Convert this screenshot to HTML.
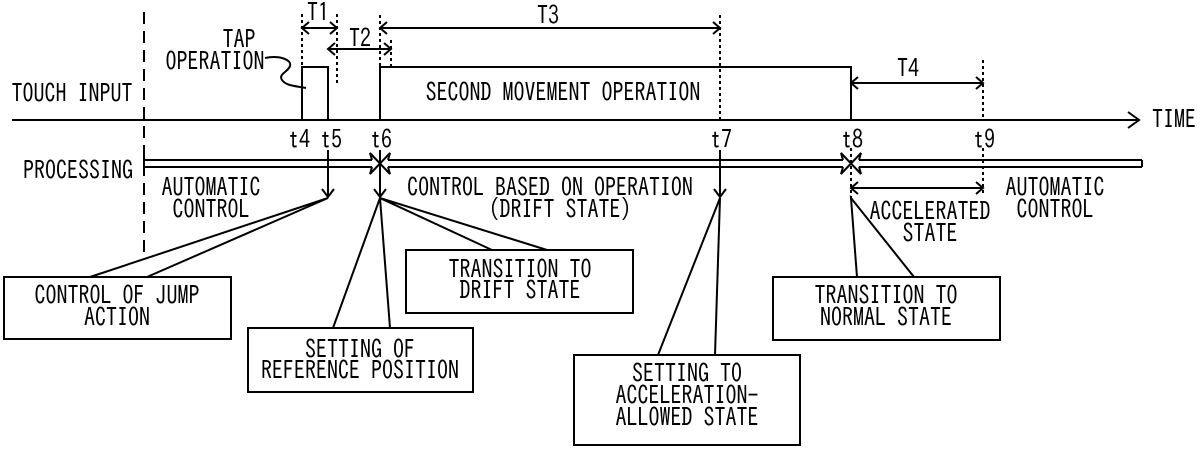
<!DOCTYPE html>
<html><head><meta charset="utf-8"><style>
html,body{margin:0;padding:0;background:#fff;}
svg{display:block;}
text{font-family:"IPAGothic","Liberation Sans Narrow","Liberation Sans",sans-serif;font-size:22px;fill:#000;transform-box:fill-box;transform-origin:center;transform:scaleY(1.18);}
</style></head><body>
<svg width="1200" height="449" viewBox="0 0 1200 449" xmlns="http://www.w3.org/2000/svg">
<g stroke="#000" stroke-width="2" fill="none">
<line x1="144" y1="12" x2="144" y2="252" stroke-dasharray="12,7"/>
<line x1="12" y1="120" x2="1138" y2="120"/>
<polyline points="1128,112 1139,120 1128,128"/>
<polyline points="302,120 302,67 328,67 328,120"/>
<polyline points="380,120 380,67 851,67 851,120"/>
<g stroke-dasharray="3,3">
<line x1="302" y1="14" x2="302" y2="67"/>
<line x1="337" y1="14" x2="337" y2="84"/>
<line x1="380" y1="15" x2="380" y2="67"/>
<line x1="391" y1="40" x2="391" y2="67"/>
<line x1="720" y1="15" x2="720" y2="120"/>
<line x1="983" y1="60" x2="983" y2="120"/>
<line x1="851" y1="148" x2="851" y2="200"/>
<line x1="983" y1="148" x2="983" y2="196"/>
</g>
<line x1="302" y1="28" x2="337" y2="28"/><polyline points="309,22 302,28 309,34"/><polyline points="330,22 337,28 330,34"/>
<line x1="328" y1="49" x2="391" y2="49"/><polyline points="335,43 328,49 335,55"/><polyline points="384,43 391,49 384,55"/>
<line x1="380" y1="28" x2="720" y2="28"/><polyline points="387,22 380,28 387,34"/><polyline points="713,22 720,28 713,34"/>
<line x1="851" y1="83" x2="983" y2="83"/><polyline points="858,77 851,83 858,89"/><polyline points="976,77 983,83 976,89"/>
<line x1="851" y1="188" x2="983" y2="188"/><polyline points="858,182 851,188 858,194"/><polyline points="976,182 983,188 976,194"/>
<path d="M265,58 C280,55 292,60 290,66 C288,72 278,74 282,80 C286,86 296,86 306,88"/>
<line x1="144" y1="155" x2="144" y2="170"/>
<line x1="144" y1="160" x2="372" y2="160"/><line x1="144" y1="167" x2="372" y2="167"/>
<line x1="388" y1="160" x2="843" y2="160"/><line x1="388" y1="167" x2="843" y2="167"/>
<line x1="859" y1="160" x2="1142" y2="160"/><line x1="859" y1="167" x2="1142" y2="167"/>
<line x1="1142" y1="160" x2="1142" y2="167"/>
<polyline points="372,160 370,153 380,163.5 370,174 372,167"/>
<polyline points="388,160 390,153 380,163.5 390,174 388,167"/>
<polyline points="843,160 841,153 851,163.5 841,174 843,167"/>
<polyline points="859,160 861,153 851,163.5 861,174 859,167"/>
<line x1="328" y1="150" x2="328" y2="197"/><polyline points="322,189 328,197 334,189"/>
<line x1="380" y1="150" x2="380" y2="197"/><polyline points="374,189 380,197 386,189"/>
<line x1="720" y1="150" x2="720" y2="197"/><polyline points="714,189 720,197 726,189"/>
<polyline points="90,277 328,198 147,277"/>
<polyline points="333,328 380,198 390,328"/>
<polyline points="492,250 380,198 547,250"/>
<polyline points="658,355 720,198 715,355"/>
<polyline points="857,277 851,198 914,277"/>
<rect x="4" y="277" width="227" height="62"/>
<rect x="248" y="328" width="225" height="64"/>
<rect x="406" y="250" width="227" height="63"/>
<rect x="574" y="355" width="226" height="90"/>
<rect x="773" y="277" width="227" height="63"/>
</g>
<g text-anchor="middle">
<text x="318" y="20">T1</text>
<text x="360" y="46">T2</text>
<text x="548" y="23">T3</text>
<text x="908" y="76">T4</text>
<text x="239" y="47">TAP</text>
<text x="215" y="69">OPERATION</text>
<text x="72" y="101">TOUCH INPUT</text>
<text x="78" y="178">PROCESSING</text>
<text x="1174" y="127">TIME</text>
<text x="563" y="100">SECOND MOVEMENT OPERATION</text>
<text x="299" y="147">t4</text><text x="331" y="147">t5</text><text x="381" y="147">t6</text>
<text x="721" y="147">t7</text><text x="852" y="147">t8</text><text x="984" y="147">t9</text>
<text x="211" y="195">AUTOMATIC</text><text x="211" y="217">CONTROL</text>
<text x="550" y="195">CONTROL BASED ON OPERATION</text><text x="560" y="217">(DRIFT STATE)</text>
<text x="930" y="219">ACCELERATED</text><text x="930" y="241">STATE</text>
<text x="1055" y="195">AUTOMATIC</text><text x="1055" y="217">CONTROL</text>
<text x="117" y="303">CONTROL OF JUMP</text><text x="117" y="325">ACTION</text>
<text x="360" y="357">SETTING OF</text><text x="360" y="378">REFERENCE POSITION</text>
<text x="520" y="277">TRANSITION TO</text><text x="520" y="298">DRIFT STATE</text>
<text x="687" y="381">SETTING TO</text><text x="687" y="403">ACCELERATION-</text><text x="687" y="425">ALLOWED STATE</text>
<text x="886" y="303">TRANSITION TO</text><text x="886" y="325">NORMAL STATE</text>
</g>
</svg>
</body></html>
